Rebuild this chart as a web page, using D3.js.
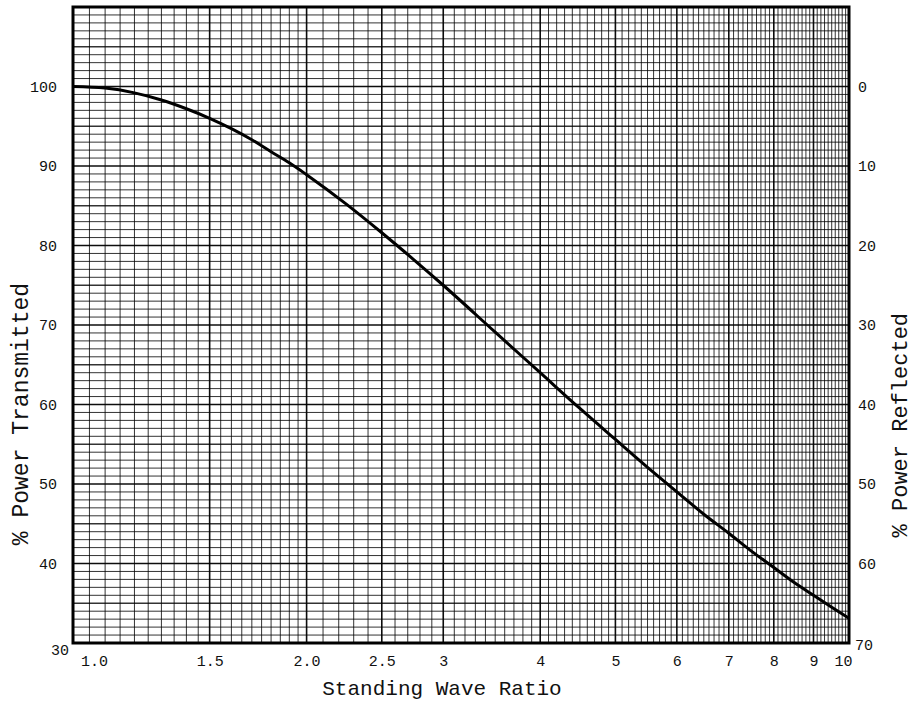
<!DOCTYPE html>
<html>
<head>
<meta charset="utf-8">
<script src="https://cdn.jsdelivr.net/npm/d3@7"></script>
<style>
  body { margin: 0; background: #fff; }
  text { font-family: "Liberation Mono", "DejaVu Sans Mono", monospace; fill: #111; }
</style>
</head>
<body>
<svg id="chart" width="914" height="704"></svg>
<script>
var swr = [1.0, 1.1, 1.2, 1.3, 1.4, 1.5, 1.6, 1.7, 1.8, 1.9, 2.0, 2.25, 2.5, 2.75, 3.0,
           3.5, 4.0, 4.5, 5.0, 5.5, 6.0, 6.5, 7.0, 7.5, 8.0, 8.5, 9.0, 9.5, 10.0];
var transmitted = [100, 99.8, 99.2, 98.3, 97.2, 96.0, 94.7, 93.3, 91.8, 90.4, 88.9, 85.2, 81.6, 78.2, 75.0,
                   69.1, 64.0, 59.5, 55.6, 52.1, 49.0, 46.2, 43.8, 41.5, 39.5, 37.6, 36.0, 34.5, 33.1];

var xTicks = [1.0, 1.5, 2.0, 2.5, 3, 4, 5, 6, 7, 8, 9, 10];
var xTickLabels = ["1.0", "1.5", "2.0", "2.5", "3", "4", "5", "6", "7", "8", "9", "10"];
var leftTicks = [30, 40, 50, 60, 70, 80, 90, 100];
var rightTickLabels = ["70", "60", "50", "40", "30", "20", "10", "0"];

var margin = { left: 73, right: 65, top: 7, bottom: 61 };
var W = 914, H = 704;
var width = W - margin.left - margin.right;
var height = H - margin.top - margin.bottom;

var x = d3.scaleLog().domain([1, 10]).range([0, width]);
var y = d3.scaleLinear().domain([30, 110]).range([height, 0]);

var svg = d3.select("#chart")
  .append("g")
  .attr("transform", `translate(${margin.left},${margin.top})`);

/* grid: semi-log graph paper */
var vLines = d3.range(1.0, 2.0001, 0.05).concat(d3.range(2.1, 10.0001, 0.1))
  .map(v => Math.round(v * 100) / 100);
var hLines = d3.range(30, 111, 1);

function isMajorX(d) {
  return Math.abs(d - Math.round(d)) < 1e-6 || (d < 3 && Math.abs(d * 2 - Math.round(d * 2)) < 1e-6);
}

var grid = svg.append("g").attr("class", "grid");

grid.selectAll(".vline")
  .data(vLines).enter()
  .append("line")
  .attr("x1", d => x(d)).attr("x2", d => x(d))
  .attr("y1", 0).attr("y2", height)
  .attr("stroke", "#000")
  .attr("stroke-opacity", d => isMajorX(d) ? 0.95 : 0.8)
  .attr("stroke-width", d => isMajorX(d) ? 1.6 : 1);

grid.selectAll(".hline")
  .data(hLines).enter()
  .append("line")
  .attr("x1", 0).attr("x2", width)
  .attr("y1", d => y(d)).attr("y2", d => y(d))
  .attr("stroke", "#000")
  .attr("stroke-opacity", d => d % 10 === 0 ? 0.95 : 0.8)
  .attr("stroke-width", d => d % 10 === 0 ? 1.5 : (d % 5 === 0 ? 1.3 : 1));

/* frame */
svg.append("rect")
  .attr("x", 0).attr("y", 0)
  .attr("width", width).attr("height", height)
  .attr("fill", "none")
  .attr("stroke", "#000")
  .attr("stroke-width", 3);

/* curve */
var line = d3.line()
  .x((d, i) => x(swr[i]))
  .y(d => y(d))
  .curve(d3.curveMonotoneX);

svg.append("path")
  .datum(transmitted)
  .attr("d", line)
  .attr("fill", "none")
  .attr("stroke", "#000")
  .attr("stroke-width", 3);

/* axes */
var xAxis = svg.append("g")
  .attr("transform", `translate(0,${height})`)
  .call(d3.axisBottom(x).tickValues(xTicks).tickSize(0).tickPadding(12)
    .tickFormat((d, i) => xTickLabels[i]));
xAxis.select(".domain").remove();
xAxis.selectAll("text")
  .style("font-size", "15px")
  .attr("dx", (d, i) => i === 0 ? 21 : (i === xTicks.length - 1 ? -6 : 0));

var yAxisL = svg.append("g")
  .call(d3.axisLeft(y).tickValues(leftTicks).tickSize(0).tickPadding(16));
yAxisL.select(".domain").remove();
yAxisL.selectAll("text")
  .style("font-size", "15px")
  .attr("dx", d => d === 30 ? 12 : 0)
  .attr("dy", d => d === 30 ? "0.75em" : "0.32em");

var yAxisR = svg.append("g")
  .attr("transform", `translate(${width},0)`)
  .call(d3.axisRight(y).tickValues(leftTicks).tickSize(0).tickPadding(9)
    .tickFormat((d, i) => rightTickLabels[i]));
yAxisR.select(".domain").remove();
yAxisR.selectAll("text")
  .style("font-size", "15px")
  .attr("dx", d => d === 30 ? -3 : 0)
  .attr("dy", d => d === 30 ? "0.45em" : "0.32em");

/* titles */
svg.append("text")
  .attr("x", width / 2 - 19)
  .attr("y", height + 52)
  .attr("text-anchor", "middle")
  .style("font-size", "21px")
  .text("Standing Wave Ratio");

svg.append("text")
  .attr("transform", `translate(${-margin.left + 28},${y(58.8)}) rotate(-90)`)
  .attr("text-anchor", "middle")
  .style("font-size", "23px")
  .text("% Power Transmitted");

svg.append("text")
  .attr("transform", `translate(${width + 58},${y(57.4)}) rotate(-90)`)
  .attr("text-anchor", "middle")
  .style("font-size", "22px")
  .text("% Power Reflected");
</script>
</body>
</html>
